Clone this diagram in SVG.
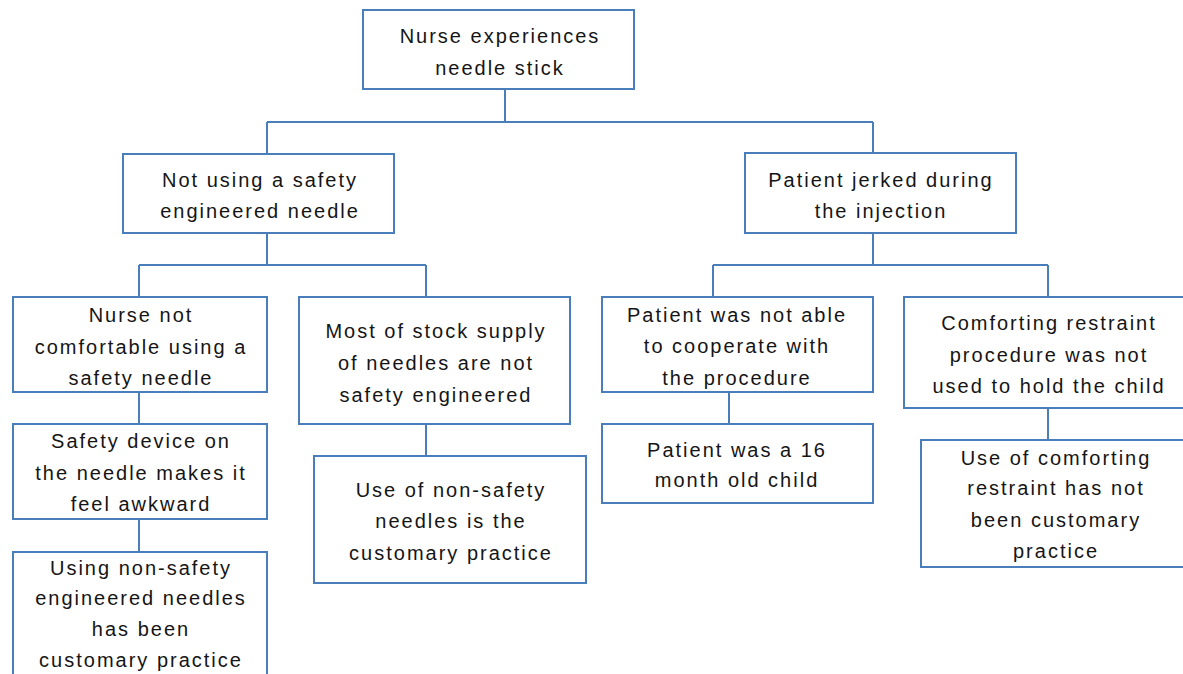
<svg xmlns="http://www.w3.org/2000/svg" width="1183" height="674" viewBox="0 0 1183 674">
<style>
.box{fill:#ffffff;stroke:#4a7ebb;stroke-width:2}
.con{fill:none;stroke:#4a7ebb;stroke-width:2}
text{font-family:"Liberation Sans",Arial,sans-serif;font-size:20px;letter-spacing:2px;fill:#151515;text-anchor:middle}
</style>
<rect width="1183" height="674" fill="#ffffff"/>
<g id="connectors">
<path class="con" d="M505,89 V122 M267,122 H873 M267,122 V154 M873,122 V154"/>
<path class="con" d="M267,233 V265 M139,265 H426 M139,265 V297 M426,265 V297"/>
<path class="con" d="M873,233 V265 M713,265 H1048 M713,265 V297 M1048,265 V297"/>
<path class="con" d="M139,392 V424 M139,519 V552"/>
<path class="con" d="M426,424 V456"/>
<path class="con" d="M729,392 V424"/>
<path class="con" d="M1048,408 V440"/>
</g>
<g id="n_root"><rect class="box" x="363" y="10" width="271" height="79"/>
<text x="500" y="43">Nurse experiences</text><text x="500" y="75">needle stick</text></g>
<g id="n_notusing"><rect class="box" x="123" y="154" width="271" height="79"/>
<text x="260" y="187">Not using a safety</text><text x="260" y="218">engineered needle</text></g>
<g id="n_jerked"><rect class="box" x="745" y="153" width="271" height="80"/>
<text x="881" y="187">Patient jerked during</text><text x="881" y="218">the injection</text></g>
<g id="n_comfortable"><rect class="box" x="13" y="297" width="254" height="95"/>
<text x="141" y="322">Nurse not</text><text x="141" y="354">comfortable using a</text><text x="141" y="385">safety needle</text></g>
<g id="n_device"><rect class="box" x="13" y="424" width="254" height="95"/>
<text x="141" y="448">Safety device on</text><text x="141" y="480">the needle makes it</text><text x="141" y="511">feel awkward</text></g>
<g id="n_usingnon"><rect class="box" x="13" y="552" width="254" height="140"/>
<text x="141" y="575">Using non-safety</text><text x="141" y="605">engineered needles</text><text x="141" y="636">has been</text><text x="141" y="667">customary practice</text></g>
<g id="n_stock"><rect class="box" x="299" y="297" width="271" height="127"/>
<text x="436" y="338">Most of stock supply</text><text x="436" y="370">of needles are not</text><text x="436" y="402">safety engineered</text></g>
<g id="n_usenon"><rect class="box" x="314" y="456" width="272" height="127"/>
<text x="451" y="497">Use of non-safety</text><text x="451" y="528">needles is the</text><text x="451" y="560">customary practice</text></g>
<g id="n_cooperate"><rect class="box" x="602" y="297" width="271" height="95"/>
<text x="737" y="322">Patient was not able</text><text x="737" y="353">to cooperate with</text><text x="737" y="385">the procedure</text></g>
<g id="n_16month"><rect class="box" x="602" y="424" width="271" height="79"/>
<text x="737" y="457">Patient was a 16</text><text x="737" y="487">month old child</text></g>
<g id="n_restraint"><rect class="box" x="904" y="297" width="290" height="111"/>
<text x="1049" y="330">Comforting restraint</text><text x="1049" y="362">procedure was not</text><text x="1049" y="393">used to hold the child</text></g>
<g id="n_usecomfort"><rect class="box" x="921" y="440" width="270" height="127"/>
<text x="1056" y="465">Use of comforting</text><text x="1056" y="495">restraint has not</text><text x="1056" y="527">been customary</text><text x="1056" y="558">practice</text></g>
</svg>
